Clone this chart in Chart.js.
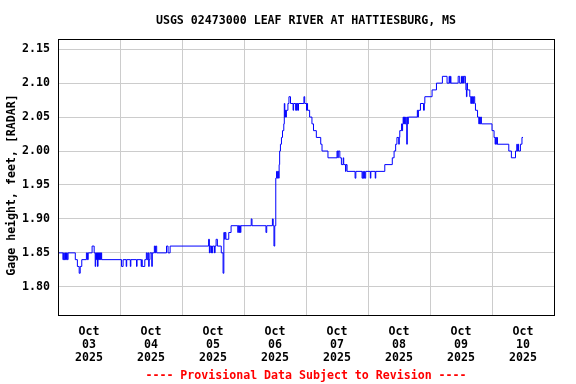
<!DOCTYPE html>
<html>
<head>
<meta charset="utf-8">
<script src="https://cdn.jsdelivr.net/npm/chart.js@4.4.1/dist/chart.umd.min.js"></script>
<style>
  html, body { margin: 0; padding: 0; background: #fff; }
  canvas { display: block; }
</style>
</head>
<body>
<canvas id="chart" width="576" height="384"></canvas>
<script>
const title = 'USGS 02473000 LEAF RIVER AT HATTIESBURG, MS';
const yTitle = 'Gage height, feet, [RADAR]';
const footnote = '---- Provisional Data Subject to Revision ----';

// hours since Oct 03 2025 00:00, only where the reading changes
const hours = [
  // Oct 03
  0, 1.9, 2.2, 2.4, 2.7, 2.9, 3.3, 3.6, 3.9, 6.7, 7.5, 8.2, 8.6, 9.2, 11.0, 11.4, 11.7,
  13.2, 14.0, 14.4, 14.6, 14.9, 15.1, 15.3, 15.5, 15.7, 15.9, 16.1, 16.3, 16.5, 16.7, 16.9,
  // Oct 04
  24.6, 25.2, 26.4, 26.6, 28.0, 28.2, 30.4, 30.6, 32.2, 32.4, 32.6, 33.6, 34.2, 34.5, 34.8,
  35.1, 35.3, 35.6, 36.3, 36.5, 37.3, 37.6, 37.8, 38.2, 42.0, 42.6, 43.4,
  // Oct 05
  58.3, 58.6, 58.8, 59.2, 59.4, 59.7, 59.9, 60.6, 60.8, 61.2, 61.7, 63.2, 63.9, 64.2, 64.5,
  64.7, 65.0, 66.1, 67.0, 69.6, 69.8, 70.1, 70.3, 70.6, 70.8, 74.8, 75.1, 80.5, 80.8, 83.0,
  83.3, 83.6, 83.9,
  // Oct 06
  84.3, 84.6, 84.9, 85.1, 85.4, 85.6, 85.8, 86.1, 86.5, 86.9, 87.4, 87.6, 87.8, 88.0, 88.2,
  88.4, 89.0, 89.4, 90.0, 91.0, 91.2, 92.0, 92.2, 92.4, 92.6, 92.9, 93.1, 95.2, 95.5, 96.2,
  96.4, 96.6, 97.4, 98.3, 98.9, 100.0, 101.7, 102.2, 104.5, 108.0, 108.3, 108.5, 109.1,
  109.7, 110.4, 110.6, 111.3, 111.5, 111.9, 115.0, 115.3, 117.7, 118.0, 118.2, 118.5, 118.7,
  119.1, 120.9, 121.1, 122.8, 123.0,
  // Oct 08
  126.5, 129.4, 130.1, 130.7, 131.2, 131.9, 132.1, 132.3, 133.0, 133.2, 133.4, 133.6, 133.8,
  134.1, 134.3, 134.6, 134.8, 135.0, 135.2, 135.4, 135.6, 139.1, 139.3, 139.5, 140.3, 141.5,
  141.8, 142.0, 144.8, 146.5, 148.8, 150.6, 151.4, 151.6, 151.9, 152.1, 154.9, 155.5, 156.2,
  156.5, 156.7, 157.0, 157.2, 157.7, 157.9, 158.1, 158.3, 158.5, 159.4, 159.8, 160.0, 160.2,
  160.4, 160.7, 160.9, 161.3, 161.6, 162.4, 162.9, 163.1, 163.3, 163.6, 163.9,
  // Oct 10
  168.0, 168.8, 169.2, 169.4, 169.8, 170.0, 170.1, 174.5, 175.5, 177.1, 177.6, 177.8, 178.1,
  178.3, 179.0, 179.6, 180.0
];
const gage = [
  1.85, 1.84, 1.85, 1.84, 1.85, 1.84, 1.85, 1.84, 1.85, 1.84, 1.83, 1.82, 1.83, 1.84, 1.85, 1.84, 1.85,
  1.86, 1.85, 1.83, 1.85, 1.84, 1.85, 1.83, 1.85, 1.84, 1.85, 1.84, 1.85, 1.84, 1.85, 1.84,

  1.83, 1.84, 1.83, 1.84, 1.83, 1.84, 1.83, 1.84, 1.83, 1.84, 1.83, 1.84, 1.85, 1.84, 1.85,
  1.83, 1.84, 1.85, 1.83, 1.85, 1.86, 1.85, 1.86, 1.85, 1.86, 1.85, 1.86,

  1.87, 1.85, 1.86, 1.85, 1.86, 1.85, 1.86, 1.85, 1.86, 1.87, 1.86, 1.85, 1.82, 1.88, 1.87,
  1.88, 1.87, 1.88, 1.89, 1.88, 1.89, 1.88, 1.89, 1.88, 1.89, 1.90, 1.89, 1.88, 1.89, 1.90,
  1.89, 1.86, 1.89,

  1.96, 1.97, 1.96, 1.97, 1.96, 1.98, 2.00, 2.01, 2.02, 2.03, 2.04, 2.07, 2.05, 2.06, 2.05,
  2.06, 2.07, 2.08, 2.07, 2.06, 2.07, 2.06, 2.07, 2.06, 2.07, 2.06, 2.07, 2.08, 2.07, 2.06,
  2.07, 2.06, 2.05, 2.04, 2.03, 2.02, 2.01, 2.00, 1.99, 2.00, 1.99, 2.00, 1.99,
  1.98, 1.99, 1.98, 1.97, 1.98, 1.97, 1.96, 1.97, 1.96, 1.97, 1.96, 1.97, 1.96,
  1.97, 1.96, 1.97, 1.96, 1.97,

  1.98, 1.99, 2.00, 2.01, 2.02, 2.01, 2.02, 2.03, 2.04, 2.03, 2.04, 2.05, 2.04,
  2.05, 2.04, 2.05, 2.04, 2.01, 2.05, 2.04, 2.05, 2.06, 2.05, 2.06, 2.07, 2.06,
  2.07, 2.08, 2.09, 2.10, 2.11, 2.10, 2.11, 2.10, 2.11, 2.10, 2.11, 2.10, 2.11,
  2.10, 2.11, 2.10, 2.11, 2.10, 2.09, 2.08, 2.10, 2.09, 2.08, 2.07, 2.08, 2.07,
  2.08, 2.07, 2.08, 2.07, 2.06, 2.05, 2.04, 2.05, 2.04, 2.05, 2.04,

  2.03, 2.02, 2.01, 2.02, 2.01, 2.02, 2.01, 2.00, 1.99, 2.00, 2.01, 2.00, 2.01,
  2.00, 2.01, 2.02, 2.02
];

const dayLabels = ['03', '04', '05', '06', '07', '08', '09', '10'];
const xTicks = [0, 12, 24, 36, 48, 60, 72, 84, 96, 108, 120, 132, 144, 156, 168, 180, 192];
const yTicks = [1.80, 1.85, 1.90, 1.95, 2.00, 2.05, 2.10, 2.15];

const mono = 'DejaVu Sans Mono';
const font = { family: mono, size: 11.6, weight: 'bold' };

// box round the plot and the rotated y title
const frame = {
  id: 'frame',
  afterDraw(chart) {
    const { ctx, chartArea } = chart;
    const l = Math.round(chartArea.left) + 0.5;
    const t = Math.round(chartArea.top) + 0.5;
    const r = Math.round(chartArea.right) + 0.5;
    const b = Math.round(chartArea.bottom) - 0.5;
    ctx.save();
    ctx.strokeStyle = '#000';
    ctx.lineWidth = 1;
    ctx.strokeRect(l, t, r - l, b - t);
    ctx.font = 'bold 11.6px "' + mono + '"';
    ctx.fillStyle = '#000';
    ctx.textAlign = 'center';
    ctx.textBaseline = 'middle';
    ctx.translate(12, 185);
    ctx.rotate(-Math.PI / 2);
    ctx.fillText(yTitle, 0, 0);
    ctx.restore();
  },
};

new Chart(document.getElementById('chart'), {
  type: 'line',
  data: {
    datasets: [
      {
        label: 'Gage height',
        data: hours.map((h, i) => ({ x: h, y: gage[i] })),
        borderColor: '#0000ff',
        borderWidth: 1,
        pointRadius: 0,
        stepped: true,
        fill: false,
      },
    ],
  },
  options: {
    responsive: false,
    animation: false,
    devicePixelRatio: 1,
    layout: { padding: { left: 0, right: 22, top: 0, bottom: 0 } },
    scales: {
      x: {
        type: 'linear',
        min: 0,
        max: 192,
        afterBuildTicks: (s) => { s.ticks = xTicks.map((v) => ({ value: v })); },
        afterFit: (s) => { s.height = 48; },
        border: { display: false },
        grid: {
          drawTicks: false,
          color: (c) => (c.tick && c.tick.value % 24 === 0 ? '#cccccc' : 'rgba(0,0,0,0)'),
        },
        ticks: {
          autoSkip: false,
          maxRotation: 0,
          padding: 9,
          color: '#000',
          font: { ...font, lineHeight: '13px' },
          callback: (v) => (v % 24 === 12 ? ['Oct', dayLabels[(v - 12) / 24], '2025'] : ''),
        },
      },
      y: {
        min: 1.757,
        max: 2.165,
        afterBuildTicks: (s) => { s.ticks = yTicks.map((v) => ({ value: v })); },
        afterFit: (s) => { s.width = 58; },
        border: { display: false },
        grid: { drawTicks: false, color: '#cccccc' },
        ticks: {
          padding: 8,
          color: '#000',
          font,
          callback: (v) => v.toFixed(2),
        },
      },
    },
    plugins: {
      legend: { display: false },
      tooltip: { enabled: false },
      title: {
        display: true,
        text: title,
        color: '#000',
        fullSize: false,
        font: { ...font, lineHeight: '14px' },
        padding: { top: 14, bottom: 11 },
      },
      subtitle: {
        display: true,
        position: 'bottom',
        text: footnote,
        color: '#ff0000',
        fullSize: false,
        font: { ...font, lineHeight: '14px' },
        padding: { top: 5, bottom: 1 },
      },
    },
  },
  plugins: [frame],
});
</script>
</body>
</html>
